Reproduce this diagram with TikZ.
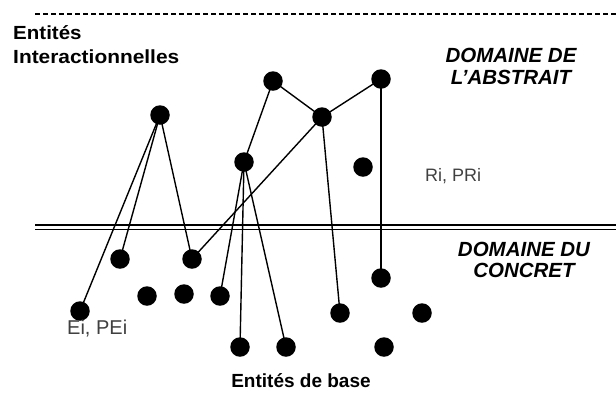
\documentclass[tikz,border=0pt]{standalone}
\usepackage{fontspec}
\setmainfont{Liberation Sans}
\begin{document}
\begin{tikzpicture}[x=1pt,y=-1pt,
  dot/.style={circle,fill=black,inner sep=0pt,minimum size=19.5pt},
  edge/.style={line width=1.4pt},
  lbl/.style={font=\fontsize{19}{19}\selectfont\bfseries,inner sep=0pt},
  dom/.style={font=\fontsize{20.5}{20.5}\selectfont\bfseries\itshape,inner sep=0pt},
  thin/.style={font=\fontsize{18}{18}\selectfont,text=black!75,inner sep=0pt}]
\useasboundingbox (0,0) rectangle (616,392);
% separators
\coordinate (d1) at (35,14); \coordinate (d2) at (616,14);
\draw[line width=1.5pt,dash pattern=on 5pt off 3pt] (d1) -- (d2);
\coordinate (l1) at (35,225); \coordinate (l2) at (616,225);
\coordinate (m1) at (35,229.5); \coordinate (m2) at (616,229.5);
\draw[line width=1.1pt] (l1) -- (l2);
\draw[line width=1.1pt] (m1) -- (m2);
% nodes
\node[dot] (A) at (160,115) {};
\node[dot] (B) at (273,81) {};
\node[dot] (C) at (381,79) {};
\node[dot] (D) at (322,117) {};
\node[dot] (E) at (244,162) {};
\node[dot] (F) at (363,167) {};
\node[dot] (G) at (120,259) {};
\node[dot] (H) at (192,259) {};
\node[dot] (I) at (80,311) {};
\node[dot] (J) at (147,296) {};
\node[dot] (K) at (184,294) {};
\node[dot] (L) at (220,296) {};
\node[dot] (M) at (381,278) {};
\node[dot] (N) at (340,313) {};
\node[dot] (O) at (422,313) {};
\node[dot] (P) at (240,347) {};
\node[dot] (Q) at (286,347) {};
\node[dot] (R) at (384,347) {};
% edges
\draw[edge] (A.center) -- (G.center);
\draw[edge] (A.center) -- (I.center);
\draw[edge] (A.center) -- (H.center);
\draw[edge] (B.center) -- (E.center);
\draw[edge] (B.center) -- (D.center);
\draw[edge] (D.center) -- (C.center);
\draw[edge] (D.center) -- (H.center);
\draw[edge] (D.center) -- (N.center);
\draw[edge] (C.center) -- (M.center);
\draw[edge] (E.center) -- (L.center);
\draw[edge] (E.center) -- (P.center);
\draw[edge] (E.center) -- (Q.center);
% texts
\node[lbl,anchor=base west] (t1) at (13,39) {\scalebox{1.08}[1]{Entités}};
\node[lbl,anchor=base west] (t2) at (13,63) {\scalebox{1.1}[1]{Interactionnelles}};
\node[dom,anchor=base] (t3) at (511,62) {DOMAINE DE};
\node[dom,anchor=base] (t4) at (511,84) {L’ABSTRAIT};
\node[dom,anchor=base] (t5) at (524,256) {DOMAINE DU};
\node[dom,anchor=base] (t6) at (524,277) {CONCRET};
\node[thin,anchor=base west] (t7) at (425,181) {Ri, PRi};
\node[thin,font=\fontsize{20}{20}\selectfont,anchor=base west] (t8) at (67,334) {Ei, PEi};
\node[lbl,anchor=base] (t9) at (301,387) {Entités de base};
\end{tikzpicture}
\end{document}
